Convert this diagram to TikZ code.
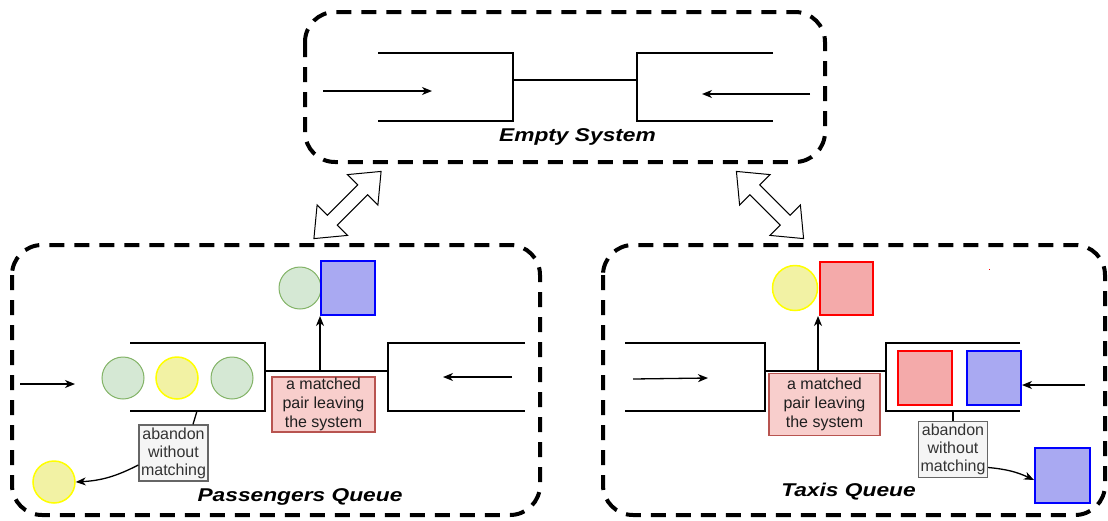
\documentclass[tikz,border=0pt]{standalone}
\usepackage{fontspec}
\setmainfont{Liberation Sans}
\usetikzlibrary{arrows.meta,calc}
\definecolor{gfill}{HTML}{D5E8D4}
\definecolor{gline}{HTML}{82B366}
\definecolor{yfill}{HTML}{F2F2A4}
\definecolor{yline}{HTML}{FFFF00}
\definecolor{bfill}{HTML}{A9A9F2}
\definecolor{bline}{HTML}{0000FF}
\definecolor{rfill}{HTML}{F4AAAA}
\definecolor{rline}{HTML}{FF0000}
\definecolor{mfill}{HTML}{F8CECC}
\definecolor{mline}{HTML}{B85450}
\definecolor{afill}{HTML}{F5F5F5}
\definecolor{aline}{HTML}{666666}
\newcommand{\wide}[1]{\scalebox{1.23}[1]{#1}}
\tikzset{
  dbox/.style={line width=4pt, dash pattern=on 15pt off 10pt, rounded corners=30pt},
  chan/.style={line width=1.3pt},
  arr/.style={line width=1.3pt, -{Stealth[length=10pt,width=8pt,inset=3pt]}},
  gcirc/.style={circle, minimum size=42pt, inner sep=0pt, fill=gfill, draw=gline, line width=1pt},
  ycirc/.style={circle, minimum size=42pt, inner sep=0pt, fill=yfill, draw=yline, line width=1.5pt},
  bsq/.style={minimum size=54pt, inner sep=0pt, fill=bfill, draw=bline, line width=2pt},
  rsq/.style={minimum size=54pt, inner sep=0pt, fill=rfill, draw=rline, line width=2pt},
  mbox/.style={fill=mfill, draw=mline, line width=1.3pt, inner sep=0pt, align=center, text=black!88, font=\fontsize{16}{19}\selectfont},
  abox/.style={fill=afill, draw=aline, line width=1.3pt, inner sep=0pt, align=center, text=black!80, font=\fontsize{16}{18}\selectfont},
  ttl/.style={font=\fontsize{18.5}{20}\selectfont\bfseries\itshape, anchor=base, inner sep=0pt},
  dbl/.style={draw, line width=1pt, fill=white}
}
\begin{document}
\begin{tikzpicture}[x=1pt,y=-1pt]
\useasboundingbox (0,0) rectangle (1108,520);
% ---------- top box ----------
\draw[dbox] (305,12) rectangle (825,162);
\draw[chan] (378,53) -- (513,53) -- (513,121) -- (378,121);
\draw[chan] (513,80) -- (637,80);
\draw[chan] (773,53) -- (637,53) -- (637,121) -- (773,121);
\coordinate (ta1) at (323,91); \coordinate (ta2) at (432,91);
\draw[arr] (ta1) -- (ta2);
\coordinate (tb1) at (810,94); \coordinate (tb2) at (702,94);
\draw[arr] (tb1) -- (tb2);
\node[ttl] (tl) at (577.5,141.5) {\wide{Empty System}};
% ---------- double arrows ----------
\begin{scope}[shift={(347.5,205)}, rotate=45]
\draw[dbl] (-47.5,0) -- (-21.5,21.5) -- (-21.5,7) -- (21.5,7) -- (21.5,21.5) -- (47.5,0) -- (21.5,-21.5) -- (21.5,-7) -- (-21.5,-7) -- (-21.5,-21.5) -- cycle;
\end{scope}
\begin{scope}[shift={(770,205)}, rotate=-45]
\draw[dbl] (-47.5,0) -- (-21.5,21.5) -- (-21.5,7) -- (21.5,7) -- (21.5,21.5) -- (47.5,0) -- (21.5,-21.5) -- (21.5,-7) -- (-21.5,-7) -- (-21.5,-21.5) -- cycle;
\end{scope}
% ---------- left box ----------
\draw[dbox] (12,245) rectangle (540,515);
\coordinate (la1) at (20,384); \coordinate (la2) at (75,384);
\draw[arr] (la1) -- (la2);
\draw[chan] (130,343) -- (265,343) -- (265,411) -- (130,411);
\draw[chan] (265,371) -- (388,371);
\draw[chan] (525,343) -- (388,343) -- (388,411) -- (525,411);
\coordinate (lb1) at (512,377); \coordinate (lb2) at (443,377);
\draw[arr] (lb1) -- (lb2);
\node[gcirc] (c1) at (123,378) {};
\node[ycirc] (c2) at (177,378) {};
\node[gcirc] (c3) at (232,378) {};
\node[gcirc] (gp) at (300,288) {};
\node[bsq] (bp) at (348,288) {};
\coordinate (lm) at (320,371);
\draw[arr] (lm) -- (lm |- bp.south);
\node[mbox, minimum width=103pt, minimum height=55pt] (m1) at (323.5,404.5) {a matched\\pair leaving\\the system};
\node[abox, minimum width=69pt, minimum height=56pt] (ab1) at (173.5,453) {abandon\\without\\matching};
\coordinate (lq) at (197,411);
\draw[line width=1.3pt] (lq) -- ($(ab1.north)+(19.5,0)$);
\node[ycirc] (yl) at (54,482) {};
\draw[line width=1.3pt, -{Stealth[length=10pt,width=8pt,inset=3pt]}] ($(ab1.west)+(0,12)$) to[bend left=12] (yl.east);
\node[ttl] (pl) at (300,501.5) {\wide{Passengers Queue}};
% ---------- right box ----------
\draw[dbox] (603,245) rectangle (1105,515);
\draw[chan] (625,343) -- (765,343) -- (765,411) -- (625,411);
\coordinate (ra1) at (633,379); \coordinate (ra2) at (708,378);
\draw[arr] (ra1) -- (ra2);
\draw[chan] (765,371) -- (886,371);
\draw[chan] (1020,343) -- (886,343) -- (886,411) -- (1020,411);
\node[rsq] (r1) at (925,378) {};
\node[bsq] (b1) at (994,378) {};
\coordinate (rb1) at (1085,385);
\draw[arr] (rb1) -- (b1.east |- rb1);
\node[ycirc, minimum size=45pt] (yt) at (795,288) {};
\node[rsq, minimum size=53pt] (rt) at (846.5,288.5) {};
\coordinate (rm) at (818,371);
\draw[arr] (rm) -- (rm |- rt.south);
\node[mbox, minimum width=111pt, minimum height=62pt] (m2) at (824.5,404.5) {a matched\\pair leaving\\the system};
\node[abox, minimum width=69pt, minimum height=56pt] (ab2) at (953,449.5) {abandon\\without\\matching};
\coordinate (rq) at (953,411);
\draw[line width=1.3pt] (rq) -- (ab2.north);
\node[bsq, minimum size=55pt] (bt) at (1062.5,475) {};
\draw[line width=1.3pt, -{Stealth[length=10pt,width=8pt,inset=3pt]}] ($(ab2.east)+(0,18)$) to[bend left=10] ($(bt.west)+(0,5)$);
\node[ttl] (tq) at (848.5,496.5) {\wide{Taxis Queue}};
\fill[red] (988.5,268.5) rectangle (990,270);
\end{tikzpicture}
\end{document}
